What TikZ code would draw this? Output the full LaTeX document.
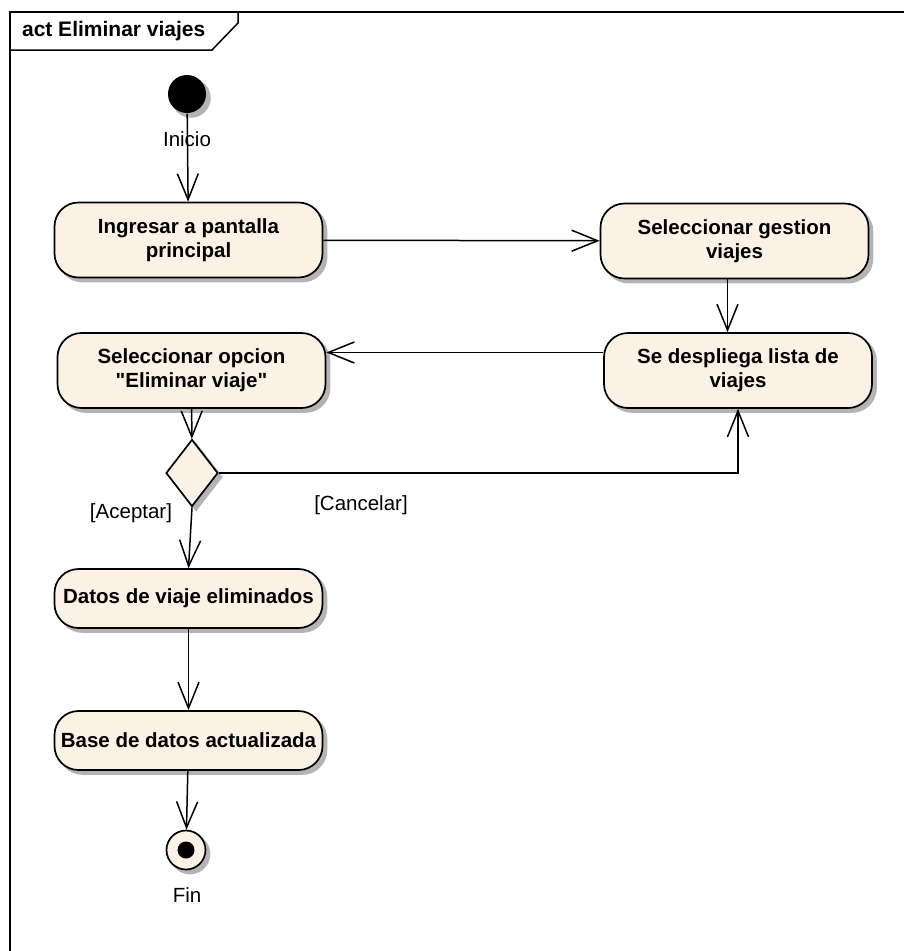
\documentclass[tikz,border=0pt]{standalone}
\usepackage{fontspec}
\setmainfont{Liberation Sans}[Ligatures=TeXOff]
\usetikzlibrary{shapes.geometric, arrows.meta}
\definecolor{actfill}{RGB}{251,241,228}
\definecolor{shadowgray}{RGB}{180,180,180}

\begin{document}
\begin{tikzpicture}[x=1pt, y=-1pt, line width=1.5pt,
    font=\fontsize{20.5}{24}\selectfont,
    castshadow/.style={preaction={fill=shadowgray, draw=shadowgray, transform canvas={xshift=4pt, yshift=-4pt}}},
    action/.style={rectangle, rounded corners=24pt, draw, line width=1.7pt, fill=actfill,
        minimum width=268pt, minimum height=75pt, align=center, inner sep=2pt,
        font=\bfseries\fontsize{20.5}{24}\selectfont, castshadow},
    decision/.style={diamond, draw, line width=1.7pt, fill=actfill, inner sep=0pt,
        minimum width=52pt, minimum height=67pt, castshadow},
    startnode/.style={circle, fill=black, inner sep=0pt, minimum size=38pt, castshadow},
    endnode/.style={circle, draw, line width=1.7pt, fill=actfill, inner sep=0pt, minimum size=39pt, castshadow},
    flow/.style={-{Straight Barb[length=26pt, width=21pt, line width=1.5pt]}}]
  \useasboundingbox (0,0) rectangle (904,951);
  \clip (0,0) rectangle (904,951);
  % frame
  \draw (10,960) -- (10,12) -- (910,12);
  \draw (10,50) -- (212,50) -- (238,23) -- (238,12);
  \node[anchor=west, font=\bfseries\fontsize{21}{24}\selectfont] (title) at (18,31) {act Eliminar viajes};
  % nodes
  \node[startnode] (inicio) at (187,94) {};
  \node (inicioLbl) at (187,139) {Inicio};
  \node[action] (ingresar) at (188.5,240) {Ingresar a pantalla\\principal};
  \node[action] (gestion) at (734.5,241) {Seleccionar gestion\\viajes};
  \node[action] (despliega) at (738,370.5) {Se despliega lista de\\viajes};
  \node[action] (opcion) at (191.5,370.5) {Seleccionar opcion\\"Eliminar viaje"};
  \node[decision] (decide) at (192,473) {};
  \node[action, minimum height=59pt] (datos) at (188.5,598.5) {Datos de viaje eliminados};
  \node[action, minimum height=59pt] (base) at (188.5,740.5) {Base de datos actualizada};
  \node[endnode] (fin) at (186,850) {};
  \fill (fin) circle (8.5);
  \node (finLbl) at (187,895) {Fin};
  \node (cancelar) at (361,505) {[Cancelar]};
  \node (aceptar) at (131,513) {[Aceptar]};
  % connectors
  \draw[flow] (inicio) -- (ingresar);
  \draw[flow] (ingresar) -- (gestion);
  \draw[flow] ([xshift=-7pt]gestion.south) -- ([xshift=-7pt]gestion.south |- despliega.north);
  \draw[flow] ([yshift=18pt]despliega.west) -- ([yshift=18pt]despliega.west -| opcion.east);
  \draw[flow] (opcion) -- (decide);
  \draw[flow] (decide.east) -| (despliega.south);
  \draw[flow] (decide.south) -- (datos.north);
  \draw[flow] (datos) -- (base);
  \draw[flow] (base) -- (fin);
\end{tikzpicture}
\end{document}
